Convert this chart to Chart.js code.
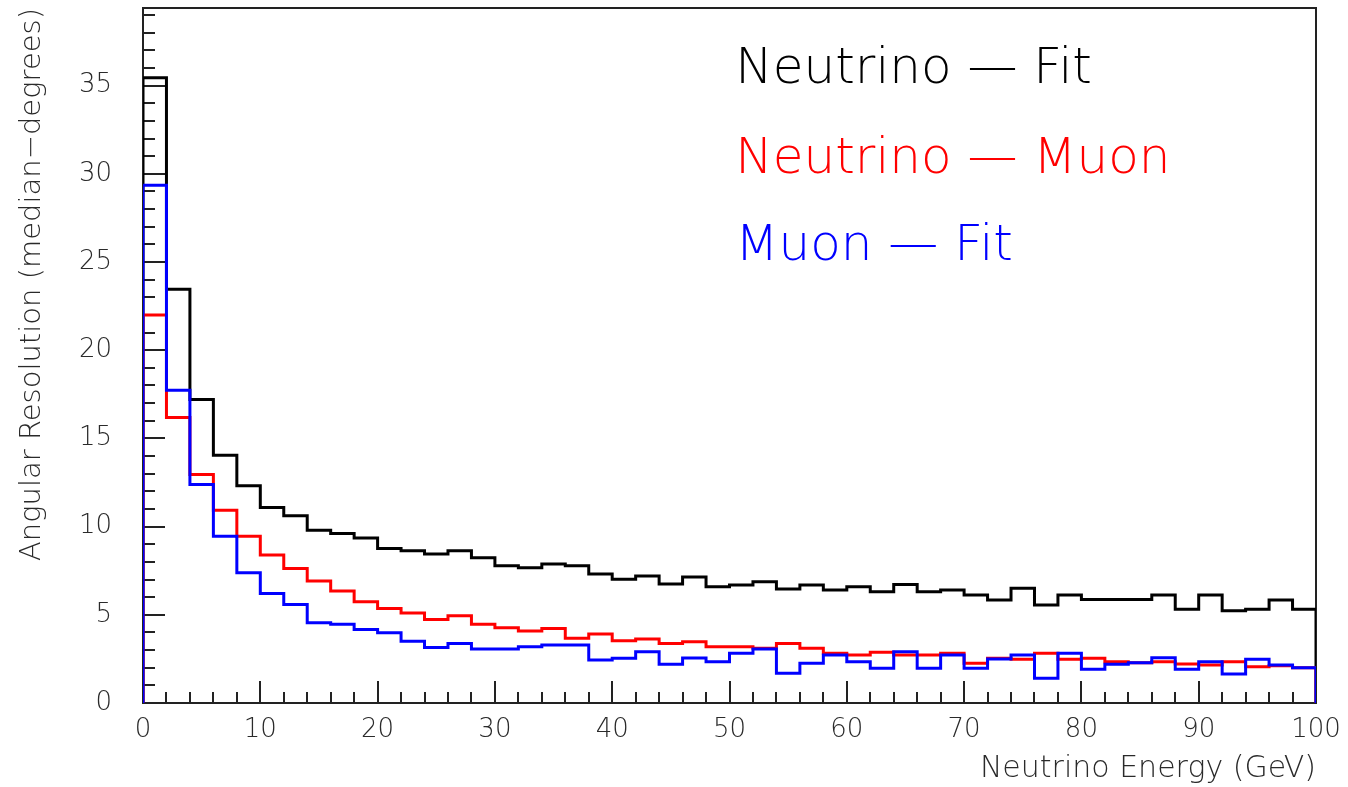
<!DOCTYPE html>
<html>
<head>
<meta charset="utf-8">
<title>Angular Resolution vs Neutrino Energy</title>
<script src="https://cdn.jsdelivr.net/npm/chart.js@4.4.1/dist/chart.umd.min.js"></script>
<style>
  html, body { margin: 0; padding: 0; background: #ffffff; }
  #wrap { width: 1348px; height: 787px; }
</style>
</head>
<body>
<div id="wrap"><canvas id="chart" width="1348" height="787"></canvas></div>
<script>
// Bin edges in GeV (50 bins of 2 GeV)
const energyEdges = [0, 2, 4, 6, 8, 10, 12, 14, 16, 18, 20, 22, 24, 26, 28, 30, 32, 34, 36, 38,
  40, 42, 44, 46, 48, 50, 52, 54, 56, 58, 60, 62, 64, 66, 68, 70, 72, 74, 76, 78,
  80, 82, 84, 86, 88, 90, 92, 94, 96, 98, 100];

// Median angular difference per bin (degrees)
const neutrinoFit = [35.45, 23.45, 17.2, 14.05, 12.31, 11.09, 10.61, 9.8, 9.61, 9.35,
  8.76, 8.63, 8.44, 8.63, 8.23, 7.78, 7.67, 7.88, 7.78, 7.31,
  7.01, 7.2, 6.74, 7.14, 6.59, 6.69, 6.87, 6.46, 6.69, 6.4,
  6.59, 6.31, 6.72, 6.31, 6.4, 6.12, 5.84, 6.5, 5.55, 6.12,
  5.87, 5.87, 5.87, 6.12, 5.31, 6.12, 5.23, 5.31, 5.84, 5.31];

const neutrinoMuon = [22.0, 16.19, 12.96, 10.93, 9.46, 8.39, 7.63, 6.91, 6.35, 5.74,
  5.36, 5.1, 4.74, 4.95, 4.46, 4.27, 4.08, 4.23, 3.67, 3.91,
  3.53, 3.63, 3.38, 3.47, 3.19, 3.19, 3.1, 3.38, 3.1, 2.82,
  2.72, 2.87, 2.72, 2.72, 2.82, 2.25, 2.53, 2.48, 2.82, 2.48,
  2.53, 2.34, 2.28, 2.34, 2.21, 2.15, 2.34, 2.06, 2.11, 2.0];

const muonFit = [29.35, 17.73, 12.39, 9.46, 7.38, 6.21, 5.59, 4.55, 4.46, 4.17,
  3.98, 3.5, 3.15, 3.38, 3.06, 3.06, 3.19, 3.29, 3.29, 2.44,
  2.53, 2.91, 2.19, 2.55, 2.34, 2.82, 3.06, 1.68, 2.25, 2.72,
  2.34, 1.97, 2.91, 1.97, 2.72, 1.97, 2.5, 2.72, 1.4, 2.82,
  1.91, 2.19, 2.28, 2.57, 1.91, 2.34, 1.64, 2.48, 2.15, 2.0];

const xTickValues = [0, 10, 20, 30, 40, 50, 60, 70, 80, 90, 100];
const yTickValues = [0, 5, 10, 15, 20, 25, 30, 35];

const seriesLabels = ['Neutrino \u2014 Fit', 'Neutrino \u2014 Muon', 'Muon \u2014 Fit'];
const seriesColors = ['#000000', '#ff0000', '#0000ff'];

const FONT = 'DejaVu Sans';
const TEXT_COLOR = '#2a2a2a';

// Outline of a histogram: rise from zero at the first edge, flat top per bin, drop at the last edge
function histogramOutline(values) {
  const pts = [{ x: energyEdges[0], y: 0 }];
  values.forEach((v, i) => pts.push({ x: energyEdges[i], y: v }));
  const last = energyEdges[energyEdges.length - 1];
  pts.push({ x: last, y: values[values.length - 1] });
  pts.push({ x: last, y: 0 });
  return pts;
}

function histDataset(label, values, color, order) {
  return {
    label,
    data: histogramOutline(values),
    borderColor: color,
    borderWidth: 3,
    stepped: 'before',
    pointRadius: 0,
    fill: false,
    tension: 0,
    borderJoinStyle: 'miter',
    borderCapStyle: 'butt',
    order
  };
}

// Fixed axis band sizes, without extra room for overhanging labels
function fixBand(prop, size) {
  return s => {
    s[prop] = size;
    s.paddingLeft = 0; s.paddingRight = 0; s.paddingTop = 0; s.paddingBottom = 0;
  };
}

// Frame around the plot plus inward-pointing major/minor ticks
const frameTicks = {
  id: 'frameTicks',
  beforeDatasetsDraw(chart) {
    const { ctx, chartArea: a, scales: { x, y } } = chart;
    ctx.save();
    ctx.strokeStyle = '#222222';
    ctx.lineWidth = 2;
    ctx.strokeRect(a.left, a.top, a.right - a.left, a.bottom - a.top);
    ctx.beginPath();
    // x axis: major every 10, minor every 2
    for (let v = x.min; v <= x.max + 1e-9; v += 2) {
      const px = Math.round(x.getPixelForValue(v));
      const len = (Math.round(v) % 10 === 0) ? 22 : 11;
      ctx.moveTo(px, a.bottom);
      ctx.lineTo(px, a.bottom - len);
    }
    // y axis: major every 5, minor every 1
    for (let v = 0; v <= y.max + 1e-9; v += 1) {
      const py = Math.round(y.getPixelForValue(v));
      const len = (v % 5 === 0) ? 22 : 12;
      ctx.moveTo(a.left, py);
      ctx.lineTo(a.left + len, py);
    }
    ctx.stroke();
    ctx.restore();
  }
};

// Coloured text key in the upper right of the plot
const textKey = {
  id: 'textKey',
  afterDatasetsDraw(chart) {
    const { ctx, chartArea: a } = chart;
    ctx.save();
    ctx.font = '200 50px "' + FONT + '"';
    ctx.textAlign = 'left';
    ctx.textBaseline = 'alphabetic';
    const x0 = a.left + (a.right - a.left) * 0.505;
    const baselines = [83, 173, 260];
    seriesLabels.forEach((t, i) => {
      ctx.fillStyle = seriesColors[i];
      ctx.fillText(t, x0, baselines[i]);
    });
    ctx.restore();
  }
};

new Chart(document.getElementById('chart'), {
  type: 'line',
  data: {
    datasets: [
      histDataset(seriesLabels[0], neutrinoFit, seriesColors[0], 3),
      histDataset(seriesLabels[1], neutrinoMuon, seriesColors[1], 2),
      histDataset(seriesLabels[2], muonFit, seriesColors[2], 1)
    ]
  },
  options: {
    responsive: false,
    animation: false,
    devicePixelRatio: 1,
    events: [],
    layout: { padding: { left: 0, right: 32, top: 8, bottom: 0 }, autoPadding: false },
    plugins: { legend: { display: false }, tooltip: { enabled: false } },
    scales: {
      x: {
        type: 'linear',
        min: 0,
        max: 100,
        afterBuildTicks: s => { s.ticks = xTickValues.map(v => ({ value: v })); },
        afterFit: fixBand('height', 84),
        grid: { display: false, drawTicks: false },
        border: { display: false },
        ticks: {
          autoSkip: false,
          maxRotation: 0,
          padding: 12,
          color: TEXT_COLOR,
          font: { family: FONT, size: 26, weight: '200' },
          callback: v => String(v)
        },
        title: {
          display: true,
          text: 'Neutrino Energy (GeV)',
          align: 'end',
          color: TEXT_COLOR,
          font: { family: FONT, size: 30, weight: '200', lineHeight: 1.2 },
          padding: { top: 0, bottom: 0 }
        }
      },
      y: {
        type: 'linear',
        min: 0,
        max: 39.4,
        afterBuildTicks: s => { s.ticks = yTickValues.map(v => ({ value: v })); },
        afterFit: fixBand('width', 143),
        grid: { display: false, drawTicks: false },
        border: { display: false },
        ticks: {
          autoSkip: false,
          padding: 31,
          color: TEXT_COLOR,
          font: { family: FONT, size: 26, weight: '200' },
          callback: v => String(v)
        },
        title: {
          display: true,
          text: 'Angular Resolution (median\u2212degrees)',
          align: 'end',
          color: TEXT_COLOR,
          font: { family: FONT, size: 29, weight: '200', lineHeight: 1.2 },
          padding: { top: 15, bottom: 0 }
        }
      }
    }
  },
  plugins: [frameTicks, textKey]
});
</script>
</body>
</html>
